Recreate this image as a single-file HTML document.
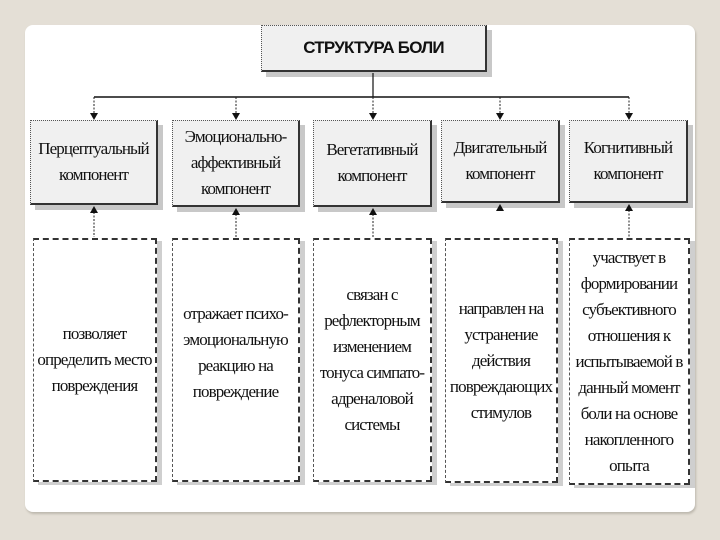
<!DOCTYPE html>
<html><head><meta charset="utf-8"><style>
body{margin:0;width:720px;height:540px;background:#e4dfd6;position:relative;overflow:hidden;font-family:"Liberation Serif",serif}
.card{position:absolute;left:25px;top:25px;width:670px;height:487px;background:#fff;border-radius:8px;box-shadow:1px 2px 2px #bdb8ae}
.b{position:absolute;box-sizing:border-box;display:flex;align-items:center;justify-content:center;text-align:center;color:#111;font-size:17px;line-height:26px;letter-spacing:-0.9px}
.top{background:#f0f0f0;border:1px dotted #555;border-right:2px solid #333;border-bottom:2px solid #333;box-shadow:5px 5px 0 #c8c8c8}
.bot{background:#fff;border:2px dashed #333;border-left:1px dashed #555;box-shadow:5px 3px 0 #cfcfcf}
.t{font-family:"Liberation Sans",sans-serif;font-weight:bold;font-size:17px;letter-spacing:-0.8px}
svg{position:absolute;left:0;top:0;z-index:5}
</style></head><body>
<div class="card"></div>
<div class="b top t" style="left:261px;top:25px;width:226px;height:47px">СТРУКТУРА БОЛИ</div>
<div class="b top" style="left:30px;top:120px;width:128px;height:85px">Перцептуальный<br>компонент</div>
<div class="b top" style="left:172px;top:120px;width:128px;height:87px">Эмоционально-<br>аффективный<br>компонент</div>
<div class="b top" style="left:313px;top:120px;width:119px;height:87px">Вегетативный<br>компонент</div>
<div class="b top" style="left:441px;top:120px;width:119px;height:83px">Двигательный<br>компонент</div>
<div class="b top" style="left:569px;top:120px;width:119px;height:83px">Когнитивный<br>компонент</div>
<div class="b bot" style="left:33px;top:238px;width:124px;height:244px">позволяет<br>определить место<br>повреждения</div>
<div class="b bot" style="left:172px;top:238px;width:128px;height:244px;padding-bottom:14px">отражает психо-<br>эмоциональную<br>реакцию на<br>повреждение</div>
<div class="b bot" style="left:313px;top:238px;width:119px;height:244px">связан с<br>рефлекторным<br>изменением<br>тонуса симпато-<br>адреналовой<br>системы</div>
<div class="b bot" style="left:445px;top:238px;width:113px;height:245px">направлен на<br>устранение<br>действия<br>повреждающих<br>стимулов</div>
<div class="b bot" style="left:569px;top:238px;width:121px;height:247px">участвует в<br>формировании<br>субъективного<br>отношения к<br>испытываемой в<br>данный момент<br>боли на основе<br>накопленного<br>опыта</div>
<svg width="720" height="540">
<line x1="373" y1="73" x2="373" y2="97" stroke="#111" stroke-width="1.2"/>
<line x1="94" y1="97" x2="629" y2="97" stroke="#111" stroke-width="1.5"/>
<g stroke="#222" stroke-width="1" stroke-dasharray="2,1.5">
<line x1="94" y1="97" x2="94" y2="116"/><line x1="236" y1="97" x2="236" y2="116"/><line x1="373" y1="97" x2="373" y2="116"/><line x1="500" y1="97" x2="500" y2="116"/><line x1="629" y1="97" x2="629" y2="116"/>
<line x1="94" y1="212" x2="94" y2="237"/><line x1="236" y1="214" x2="236" y2="237"/><line x1="373" y1="214" x2="373" y2="237"/><line x1="629" y1="210" x2="629" y2="237"/>
</g>
<g fill="#111">
<path d="M90,113 L98,113 L94,120Z"/><path d="M232,113 L240,113 L236,120Z"/><path d="M369,113 L377,113 L373,120Z"/><path d="M496,113 L504,113 L500,120Z"/><path d="M625,113 L633,113 L629,120Z"/>
<path d="M90,213 L98,213 L94,206Z"/><path d="M232,215 L240,215 L236,208Z"/><path d="M369,215 L377,215 L373,208Z"/><path d="M496,211 L504,211 L500,204Z"/><path d="M625,211 L633,211 L629,204Z"/>
</g>
</svg>
</body></html>
